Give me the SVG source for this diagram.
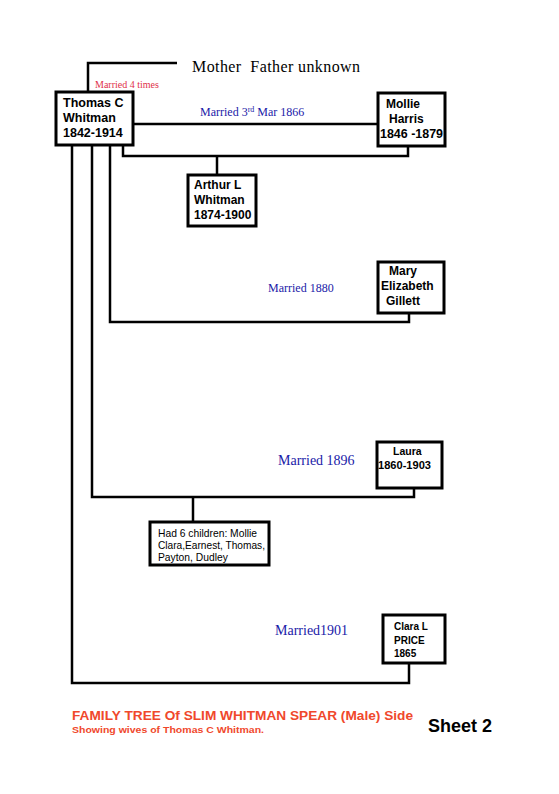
<svg xmlns="http://www.w3.org/2000/svg" width="559" height="794" viewBox="0 0 559 794">
<style>
.box{fill:#fff;stroke:#000;stroke-width:3}
.ln{fill:none;stroke:#000;stroke-width:2.5}
.nt{font-family:"Liberation Sans",Arial,sans-serif;font-weight:bold;fill:#000}
.blue{font-family:"Liberation Serif","Times New Roman",serif;fill:#1a1aa8}
.ch{font-family:"Liberation Sans",Arial,sans-serif;font-size:10.3px;fill:#000}
</style>
<rect width="559" height="794" fill="#fff"/>
<g id="connectors">
<polyline class="ln" points="88,92 88,63 177,63"/>
<line class="ln" x1="133" y1="124" x2="378" y2="124"/>
<polyline class="ln" points="123,145 123,156 408,156 408,146"/>
<line class="ln" x1="217" y1="156" x2="217" y2="175"/>
<polyline class="ln" points="110,145 110,322 409,322 409,313"/>
<polyline class="ln" points="92,145 92,497 414,497 414,488"/>
<line class="ln" x1="193" y1="497" x2="193" y2="522"/>
<polyline class="ln" points="72,145 72,683 409,683 409,663"/>
</g>
<g id="parents">
<text x="192" y="72" xml:space="preserve" font-family="'Liberation Serif','Times New Roman',serif" font-size="16" fill="#000" textLength="168" lengthAdjust="spacing">Mother  Father unknown</text>
<text x="95" y="88" font-family="'Liberation Serif','Times New Roman',serif" font-size="10" fill="#e0304a">Married 4 times</text>
</g>
<g id="thomas">
<rect class="box" x="56" y="92" width="77" height="53"/>
<text class="nt" font-size="12.5" x="63" y="107">Thomas C</text>
<text class="nt" font-size="12.5" x="63" y="122">Whitman</text>
<text class="nt" font-size="12.5" x="63" y="137">1842-1914</text>
</g>
<g id="m1">
<text class="blue" x="200" y="116" font-size="12">Married 3<tspan font-size="8" dy="-4">rd</tspan><tspan dy="4"> Mar 1866</tspan></text>
</g>
<g id="mollie">
<rect class="box" x="378" y="93" width="67" height="53"/>
<text class="nt" font-size="12" x="386" y="108">Mollie</text>
<text class="nt" font-size="12" x="389" y="123">Harris</text>
<text class="nt" font-size="12" x="380" y="138" textLength="63" lengthAdjust="spacingAndGlyphs">1846 -1879</text>
</g>
<g id="arthur">
<rect class="box" x="188" y="175" width="68" height="51"/>
<text class="nt" font-size="12" x="194" y="189">Arthur L</text>
<text class="nt" font-size="12" x="194" y="204">Whitman</text>
<text class="nt" font-size="12" x="194" y="219">1874-1900</text>
</g>
<g id="m2">
<text class="blue" x="268" y="292" font-size="12">Married 1880</text>
</g>
<g id="mary">
<rect class="box" x="378" y="262" width="66" height="51"/>
<text class="nt" font-size="12" x="389" y="275">Mary</text>
<text class="nt" font-size="12" x="381" y="290">Elizabeth</text>
<text class="nt" font-size="12" x="386" y="305">Gillett</text>
</g>
<g id="m3">
<text class="blue" x="278" y="465" font-size="14">Married 1896</text>
</g>
<g id="laura">
<rect class="box" x="377" y="442" width="65" height="46"/>
<text class="nt" font-size="10.5" x="393" y="455">Laura</text>
<text class="nt" font-size="10.5" x="378" y="469" textLength="53" lengthAdjust="spacingAndGlyphs">1860-1903</text>
</g>
<g id="children">
<rect class="box" x="150" y="522" width="119" height="43"/>
<text class="ch" x="158" y="537">Had 6 children: Mollie</text>
<text class="ch" x="158" y="549" textLength="107" lengthAdjust="spacingAndGlyphs">Clara,Earnest, Thomas,</text>
<text class="ch" x="158" y="561">Payton, Dudley</text>
</g>
<g id="m4">
<text class="blue" x="275" y="635" font-size="14">Married1901</text>
</g>
<g id="clara">
<rect class="box" x="383" y="615" width="62" height="48"/>
<text class="nt" font-size="10" x="394" y="630">Clara L</text>
<text class="nt" font-size="10" x="394" y="644">PRICE</text>
<text class="nt" font-size="10" x="394" y="657">1865</text>
</g>
<g id="footer">
<text x="72" y="720" font-family="'Liberation Sans',Arial,sans-serif" font-weight="bold" font-size="12" fill="#f0482c" textLength="341" lengthAdjust="spacingAndGlyphs">FAMILY TREE Of SLIM WHITMAN SPEAR (Male) Side</text>
<text x="72" y="733" font-family="'Liberation Sans',Arial,sans-serif" font-weight="bold" font-size="9" fill="#f0482c" textLength="192" lengthAdjust="spacingAndGlyphs">Showing wives of Thomas C Whitman.</text>
<text x="428" y="732" font-family="'Liberation Sans',Arial,sans-serif" font-weight="bold" font-size="18" fill="#000">Sheet 2</text>
</g>
</svg>
